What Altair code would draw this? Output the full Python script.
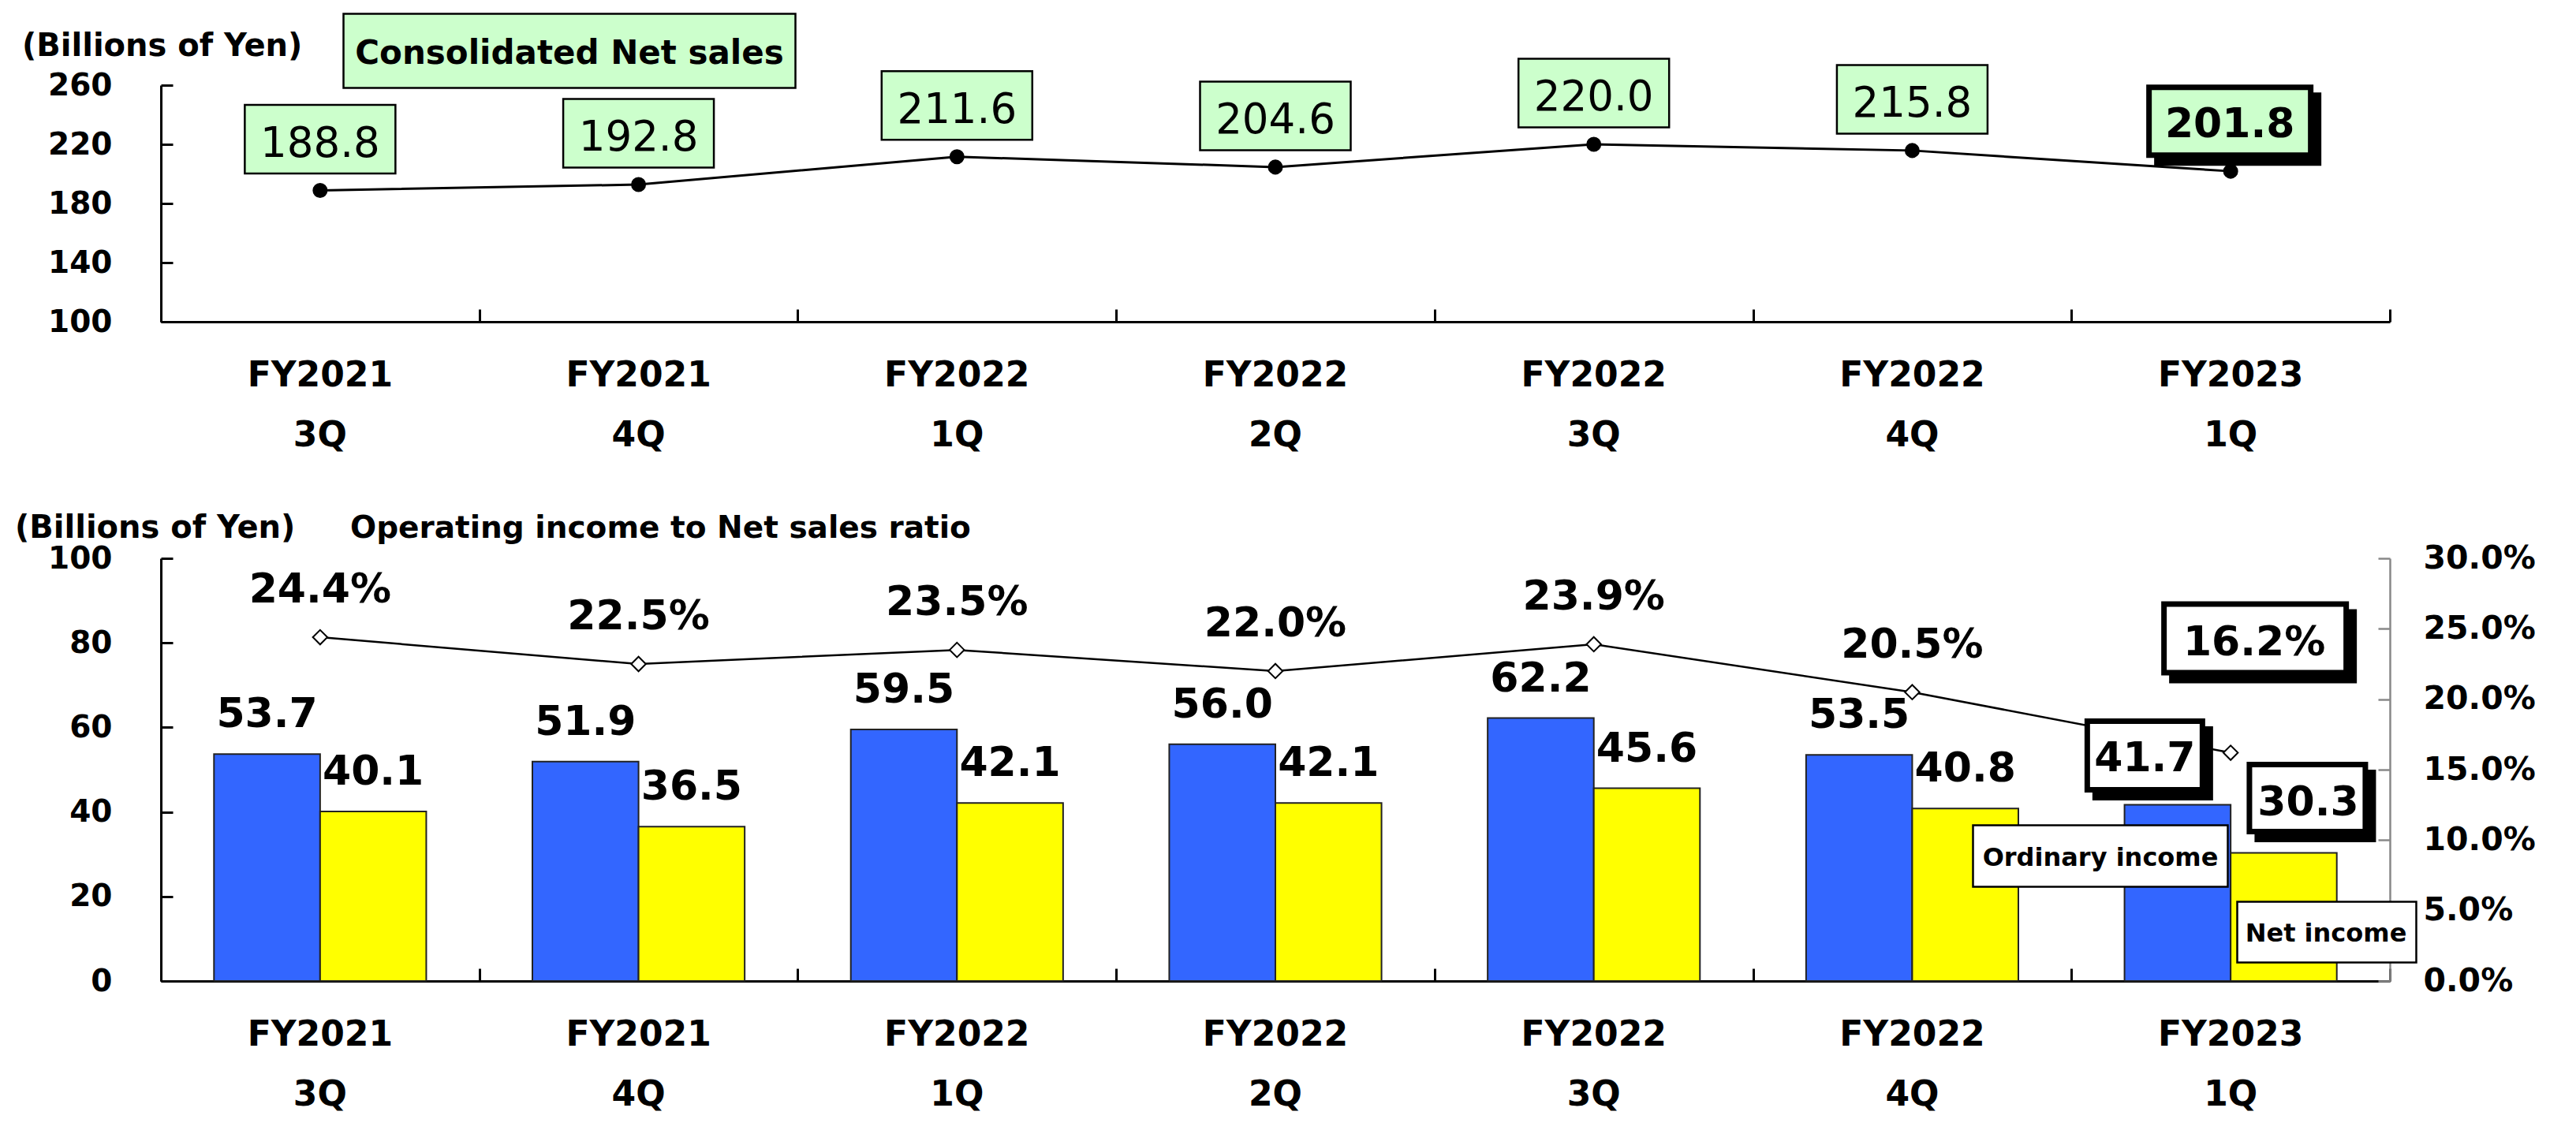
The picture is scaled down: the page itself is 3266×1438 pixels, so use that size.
import altair as alt
import pandas as pd

# ---------------- data ----------------
periods = ["FY2021 3Q", "FY2021 4Q", "FY2022 1Q", "FY2022 2Q", "FY2022 3Q", "FY2022 4Q", "FY2023 1Q"]
net_sales = [188.8, 192.8, 211.6, 204.6, 220.0, 215.8, 201.8]
ordinary_income = [53.7, 51.9, 59.5, 56.0, 62.2, 53.5, 41.7]
net_income = [40.1, 36.5, 42.1, 42.1, 45.6, 40.8, 30.3]
op_ratio = [0.244, 0.225, 0.235, 0.220, 0.239, 0.205, 0.162]
series_names = ["Ordinary income", "Net income"]
sales_ticks = [100, 140, 180, 220, 260]
income_ticks = [0, 20, 40, 60, 80, 100]
ratio_ticks = [0, 0.05, 0.10, 0.15, 0.20, 0.25, 0.30]

# ---------------- layout ----------------
FONT = "DejaVu Sans"
W, H = 2826, 1136
TOP_H = 300
BOT_Y0 = 600
LAST = periods[-1]

sales_df = pd.DataFrame({"period": periods, "sales": net_sales})
income_df = pd.DataFrame({
    "period": periods * 2,
    "series": [series_names[0]] * len(periods) + [series_names[1]] * len(periods),
    "value": ordinary_income + net_income,
})
ratio_df = pd.DataFrame({"period": periods, "ratio": op_ratio})
one = pd.DataFrame({"k": [0]})


def rect_path(cx, cy, w, h):
    x0, x1 = cx - w / 2, cx + w / 2
    y0, y1 = cy - h / 2, cy + h / 2
    return f"M{x0:.1f},{y0:.1f}L{x1:.1f},{y0:.1f}L{x1:.1f},{y1:.1f}L{x0:.1f},{y1:.1f}Z"


def xenc(axis=None):
    return alt.X("period:N", sort=periods,
                 scale=alt.Scale(type="band", domain=periods, paddingInner=0, paddingOuter=0),
                 axis=axis)


def xoff():
    return alt.XOffset("series:N", sort=series_names,
                       scale=alt.Scale(type="band", domain=series_names, paddingInner=0, paddingOuter=0.5))


def label_y_axis(values, orient, fmt=None, color="black", size=39, pad=62, dw=3):
    kw = dict(orient=orient, values=values, ticks=False, tickSize=0, domain=True,
              domainColor=color, domainWidth=dw, grid=False, title=None,
              labelFont=FONT, labelFontSize=size, labelFontWeight="bold",
              labelColor="black", labelPadding=pad, labelLimit=400)
    if fmt:
        kw["format"] = fmt
    return alt.Axis(**kw)


def tick_axis(orient, offset, values=None, color="black", width=3, size=15, band=False):
    kw = dict(orient=orient, offset=offset, labels=False, domain=False, ticks=True,
              tickSize=size, tickWidth=width, tickColor=color, grid=False, title=None)
    if values is not None:
        kw["values"] = values
    if band:
        kw["tickBand"] = "extent"
    return alt.Axis(**kw)


def label_x_axis(offset):
    return alt.Axis(orient="bottom", offset=offset, ticks=False, tickSize=0, domain=True,
                    domainColor="black", domainWidth=3, grid=False, title=None, labelAngle=0,
                    labelExpr="split(datum.label, ' ')", labelFont=FONT, labelFontSize=44,
                    labelFontWeight="bold", labelColor="black", labelBaseline="middle",
                    labelLineHeight=76, labelPadding=68, labelLimit=400)


def y_sales(axis=None):
    return alt.Y("sales:Q", scale=alt.Scale(domain=[100, 260], range=[TOP_H, 0], nice=False, zero=False),
                 axis=axis)


def y_inc(axis=None):
    return alt.Y("value:Q", scale=alt.Scale(domain=[0, 100], range=[H, BOT_Y0], nice=False), axis=axis)


def y_rat(axis=None):
    return alt.Y("ratio:Q", scale=alt.Scale(domain=[0, 0.3], range=[H, BOT_Y0], nice=False), axis=axis)


def boxed(base, enc, cx, cy, w, h, fill, txt_field, fmt, dx, dy):
    shadow = base.mark_point(shape=rect_path(cx + 10, cy + 10, w, h), size=4, filled=True,
                             fill="black", stroke="black", strokeWidth=7, opacity=1).encode(**enc)
    box = base.mark_point(shape=rect_path(cx, cy, w, h), size=4, filled=True,
                          fill=fill, stroke="black", strokeWidth=7, opacity=1).encode(**enc)
    txt = base.mark_text(font=FONT, fontSize=52, fontWeight="bold", color="black",
                         dx=dx, dy=dy).encode(text=alt.Text(txt_field, format=fmt), **enc)
    return [shadow, box, txt]


# ---------------- top panel: net sales ----------------
sales_line = alt.Chart(sales_df).mark_line(color="black", strokeWidth=3).encode(
    x=xenc(label_x_axis(-(H - TOP_H))),
    y=y_sales(label_y_axis(sales_ticks, "left")),
)
sales_pts = alt.Chart(sales_df).mark_point(shape="circle", filled=True, fill="black", stroke="black",
                                           size=290, opacity=1).encode(
    x=xenc(tick_axis("top", -TOP_H, band=True, size=16)),
    y=y_sales(tick_axis("right", -W, values=sales_ticks)),
)
sales_norm = alt.Chart(sales_df).transform_filter(alt.datum.period != LAST)
sales_box = sales_norm.mark_point(shape=rect_path(0, -65, 191, 87), size=4, filled=True,
                                  fill="#CCFFCC", stroke="black", strokeWidth=2.5, opacity=1).encode(
    x=xenc(), y=y_sales())
sales_txt = sales_norm.mark_text(font=FONT, fontSize=53, color="black", dy=-59).encode(
    x=xenc(), y=y_sales(), text=alt.Text("sales:Q", format=".1f"))
sales_hl = boxed(alt.Chart(sales_df).transform_filter(alt.datum.period == LAST),
                 dict(x=xenc(), y=y_sales()), -1, -63.5, 205, 86, "#CCFFCC", "sales:Q", ".1f", -1, -59)

title_box = alt.Chart(one).mark_point(shape=rect_path(0, 0, 573, 94), size=4, filled=True,
                                      fill="#CCFFCC", stroke="black", strokeWidth=2.5, opacity=1).encode(
    x=alt.value(518), y=alt.value(-43.5))
title_txt = alt.Chart(one).mark_text(text="Consolidated Net sales", font=FONT, fontSize=42,
                                     fontWeight="bold", color="black").encode(
    x=alt.value(518), y=alt.value(-40))
top_unit = alt.Chart(one).mark_text(text="(Billions of Yen)", font=FONT, fontSize=40, fontWeight="bold",
                                    color="black", align="left").encode(
    x=alt.value(-176), y=alt.value(-49))

# ---------------- bottom panel: incomes + ratio ----------------
bars = alt.Chart(income_df).mark_bar(stroke="#222222", strokeWidth=2).encode(
    x=xenc(label_x_axis(0)),
    xOffset=xoff(),
    y=y_inc(label_y_axis(income_ticks, "left")),
    color=alt.Color("series:N", scale=alt.Scale(domain=series_names, range=["#3366FF", "#FFFF00"]),
                    legend=None),
)
ratio_line = alt.Chart(ratio_df).mark_line(color="black", strokeWidth=2.5).encode(
    x=xenc(),
    y=y_rat(label_y_axis(ratio_ticks, "right", fmt=".1%", color="#888888", size=41, pad=42, dw=2.5)),
)
ratio_pts = alt.Chart(ratio_df).mark_point(shape="diamond", filled=True, fill="white", stroke="black",
                                           strokeWidth=2, size=340, opacity=1).encode(
    x=xenc(),
    y=y_rat(tick_axis("left", -W, values=ratio_ticks, color="#888888", width=2.5)),
)
bar_txt = alt.Chart(income_df).transform_filter(alt.datum.period != LAST).mark_text(
    font=FONT, fontSize=52, fontWeight="bold", color="black", dy=-50).encode(
    x=xenc(tick_axis("top", -H, band=True, size=16)),
    xOffset=xoff(),
    y=y_inc(tick_axis("right", -W, values=income_ticks)),
    text=alt.Text("value:Q", format=".1f"),
)
ratio_txt = alt.Chart(ratio_df).transform_filter(alt.datum.period != LAST).mark_text(
    font=FONT, fontSize=52, fontWeight="bold", color="black", dy=-60).encode(
    x=xenc(), y=y_rat(), text=alt.Text("ratio:Q", format=".1%"))

ord_hl = boxed(alt.Chart(income_df).transform_filter(
    (alt.datum.period == LAST) & (alt.datum.series == series_names[0])),
    dict(x=xenc(), xOffset=xoff(), y=y_inc()), -41.5, -62.5, 146, 87, "white", "value:Q", ".1f", -41.5, -58)
net_hl = boxed(alt.Chart(income_df).transform_filter(
    (alt.datum.period == LAST) & (alt.datum.series == series_names[1])),
    dict(x=xenc(), xOffset=xoff(), y=y_inc()), 30, -69.6, 147, 85, "white", "value:Q", ".1f", 31, -64)
ratio_hl = boxed(alt.Chart(ratio_df).transform_filter(alt.datum.period == LAST),
                 dict(x=xenc(), y=y_rat()), 31, -145, 231, 87, "white", "ratio:Q", ".1%", 30, -140)

ord_box = alt.Chart(one).mark_point(shape=rect_path(0, 0, 323, 78), size=4, filled=True, fill="white",
                                    stroke="black", strokeWidth=2.5, opacity=1).encode(
    x=alt.value(2459), y=alt.value(977.5))
ord_lbl = alt.Chart(one).mark_text(text=series_names[0], font=FONT, fontSize=32, fontWeight="bold",
                                   color="black").encode(x=alt.value(2459), y=alt.value(980))
net_box = alt.Chart(one).mark_point(shape=rect_path(0, 0, 227, 77), size=4, filled=True, fill="white",
                                    stroke="black", strokeWidth=2.5, opacity=1).encode(
    x=alt.value(2746), y=alt.value(1074))
net_lbl = alt.Chart(one).mark_text(text=series_names[1], font=FONT, fontSize=32, fontWeight="bold",
                                   color="black").encode(x=alt.value(2745), y=alt.value(1076))
bot_unit = alt.Chart(one).mark_text(text="(Billions of Yen)", font=FONT, fontSize=40, fontWeight="bold",
                                    color="black", align="left").encode(
    x=alt.value(-185), y=alt.value(562))
ratio_title = alt.Chart(one).mark_text(text="Operating income to Net sales ratio", font=FONT, fontSize=39,
                                       fontWeight="bold", color="black", align="left").encode(
    x=alt.value(240), y=alt.value(562))

layers = [sales_line, sales_pts, sales_box, sales_txt, *sales_hl, title_box, title_txt, top_unit,
          bars, ratio_line, ratio_pts, bar_txt, ratio_txt, *ord_hl, *net_hl, *ratio_hl,
          ord_box, ord_lbl, net_box, net_lbl, bot_unit, ratio_title]

chart = alt.layer(*layers).resolve_scale(
    y="independent", xOffset="independent"
).resolve_axis(
    x="independent", y="independent"
).properties(
    width=W, height=H,
    autosize=alt.AutoSizeParams(type="none"),
    padding={"left": 204, "top": 108, "right": 236, "bottom": 194},
    background="white",
).configure_view(stroke=None)

chart.save("out.html", embed_options={"renderer": "svg", "actions": False})
